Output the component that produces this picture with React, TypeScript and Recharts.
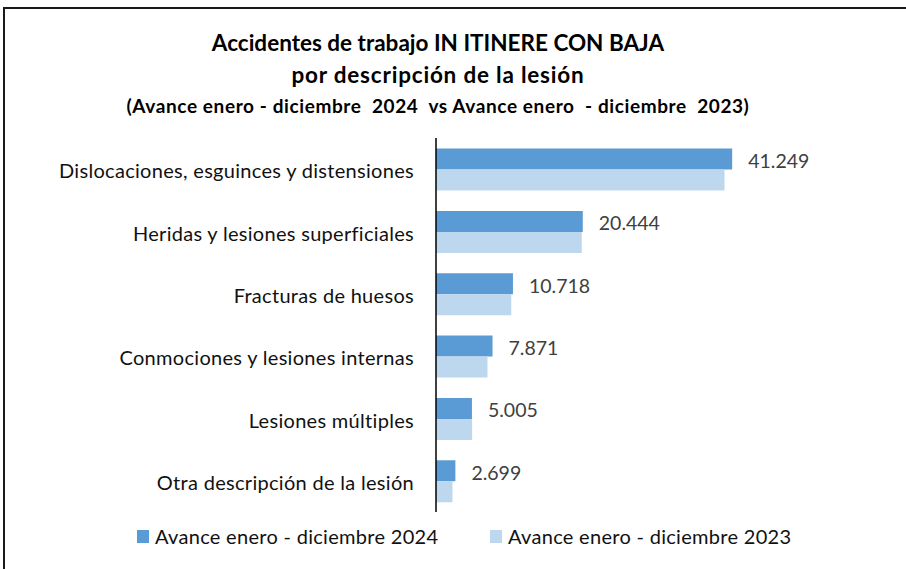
import { BarChart, Bar, XAxis, YAxis, LabelList } from "recharts";

const categories = [
  "Dislocaciones, esguinces y distensiones",
  "Heridas y lesiones superficiales",
  "Fracturas de huesos",
  "Conmociones y lesiones internas",
  "Lesiones múltiples",
  "Otra descripción de la lesión",
];
const values2024 = [41249, 20444, 10718, 7871, 5005, 2699];
const values2023 = [40180, 20300, 10480, 7170, 5030, 2290];
const seriesNames = ["Avance enero - diciembre 2024", "Avance enero - diciembre 2023"];

const colors = { y2024: "#5B9BD5", y2023: "#BDD7EE", text: "#404040" };
const font = "Lato, 'Open Sans', sans-serif";

const data = categories.map((c, i) => ({ name: c, v2024: values2024[i], v2023: values2023[i] }));

const fmt = (v: number) => v.toLocaleString("de-DE");

function LegendBox() {
  return (
    <div style={{ position: "absolute", left: 137, top: 524, display: "flex", fontFamily: font, fontSize: 20, letterSpacing: 0.3, color: "#111" }}>
      {[colors.y2024, colors.y2023].map((c, i) => (
        <div key={i} style={{ display: "flex", alignItems: "center", gap: 6, width: i === 0 ? 353 : undefined }}>
          <span style={{ width: 12, height: 13, background: c, display: "inline-block" }} />
          <span>{seriesNames[i]}</span>
        </div>
      ))}
    </div>
  );
}

export default function App() {
  return (
    <div style={{ position: "absolute", left: 0, top: 0, width: 906, height: 569, overflow: "hidden", background: "#fff" }}>
      <div style={{ position: "absolute", left: 3, top: 7, width: 920, height: 600, border: "2px solid #1a1a1a" }} />
      <div style={{ position: "absolute", left: 0, top: 27, width: 876, textAlign: "center", fontFamily: font, fontWeight: 700, color: "#000", whiteSpace: "pre" }}>
        <div style={{ fontSize: 22.5, lineHeight: "32px" }}>Accidentes de trabajo IN ITINERE CON BAJA</div>
        <div style={{ fontSize: 22.5, lineHeight: "32px", letterSpacing: 0.8 }}>por descripción de la lesión</div>
        <div style={{ fontSize: 19, lineHeight: "30px", letterSpacing: 0.6 }}>(Avance enero - diciembre  2024  vs Avance enero  - diciembre  2023)</div>
      </div>
      <div style={{ position: "absolute", left: 0, top: 0 }}>
        <BarChart
          width={906}
          height={569}
          data={data}
          layout="vertical"
          margin={{ top: 138, right: 111, bottom: 57, left: 0 }}
          barCategoryGap="17%"
          barGap={0}
        >
          <XAxis type="number" domain={[0, 50000]} hide />
          <YAxis
            type="category"
            dataKey="name"
            width={436}
            tickLine={false}
            tickSize={0}
            tickMargin={22}
            axisLine={{ stroke: "#000", strokeWidth: 1.5 }}
            tick={{ fill: "#111", fontSize: 20, fontFamily: font, letterSpacing: 0.3, dy: 2 }}
          />
          <Bar dataKey="v2024" name={seriesNames[0]} fill={colors.y2024} isAnimationActive={false}>
            <LabelList dataKey="v2024" position="right" offset={16} formatter={(v: any) => fmt(Number(v))} fill={colors.text} fontSize={19.5} fontFamily={font} dy={2} />
          </Bar>
          <Bar dataKey="v2023" name={seriesNames[1]} fill={colors.y2023} isAnimationActive={false} />
        </BarChart>
      </div>
      <LegendBox />
    </div>
  );
}
